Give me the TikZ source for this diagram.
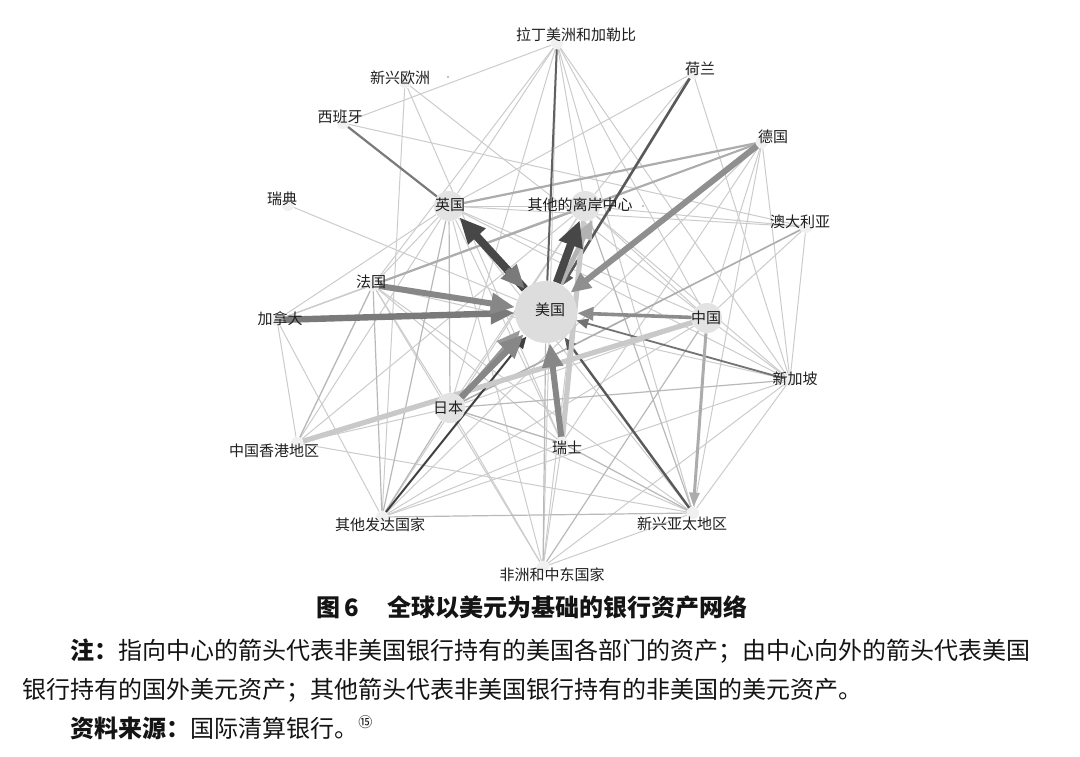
\documentclass[tikz,border=0pt]{standalone}
\usepackage{fontspec}
\setmainfont{Noto Sans CJK SC}
\usetikzlibrary{arrows.meta,calc}
\pgfdeclarelayer{bg}
\pgfdeclarelayer{edges}
\pgfsetlayers{bg,edges,main}
\begin{document}
\begin{tikzpicture}[x=0.5pt,y=-0.5pt,
  lbl/.style={font=\fontsize{7.5}{9}\selectfont, text=black!88, inner sep=0pt},
  hubS/.style={circle, fill=gray!12, inner sep=0pt, minimum size=6pt},
  hubL/.style={circle, fill=gray!22, inner sep=0pt, minimum size=15pt},
  usN/.style={circle, fill=gray!27, inner sep=0pt, minimum size=31pt},
  ea/.style={draw=gray!40, line width=0.5pt},
  eb/.style={draw=gray!55, line width=0.6pt},
  ec/.style={draw=gray!65, line width=0.8pt},
  edk/.style={draw=black!62, line width=1pt},
  big/.style={line width=3pt, -{Triangle[length=12pt,width=10pt]}},
  small/.style={-{Triangle[length=6pt,width=5pt]}},
  txt/.style={font=\fontsize{12}{14}\selectfont, text=black!92, inner sep=0pt, anchor=west}
]
\useasboundingbox (0,0) rectangle (1080,756);
\begin{pgfonlayer}{bg}
\fill[white] (0,0) rectangle (1080,756);
\end{pgfonlayer}

% hubs
\node[usN] (us) at (546,312) {};
\node[hubL] (uk) at (449,206) {};
\node[hubL] (off) at (585,206) {};
\node[hubL] (jp) at (450,408) {};
\node[hubL] (cn) at (707,318) {};
\node[hubS] (fr) at (373,285) {};
\node[hubS] (ca) at (277,320) {};
\node[hubS] (se) at (288,205) {};
\node[hubS] (es) at (343,123) {};
\node[hubS] (ee) at (405,82) {};
\node[hubS] (la) at (557,43) {};
\node[hubS] (nl) at (693,73) {};
\node[hubS] (de) at (762,142) {};
\node[hubS] (au) at (806,227) {};
\node[hubS] (sg) at (790,380) {};
\node[hubS] (eap) at (693,513) {};
\node[hubS] (ame) at (543,567) {};
\node[hubS] (ch) at (562,443) {};
\node[hubS] (hk) at (297,443) {};
\node[hubS] (od) at (382,517) {};

% labels
\node[lbl] (t-us) at (550,310) {美国};
\node[lbl] (t-uk) at (450,205) {英国};
\node[lbl] (t-off) at (580,205) {其他的离岸中心};
\node[lbl] (t-jp) at (448,408) {日本};
\node[lbl] (t-cn) at (706,318) {中国};
\node[lbl] (t-fr) at (371,282) {法国};
\node[lbl] (t-ca) at (280,319) {加拿大};
\node[lbl] (t-se) at (282,199) {瑞典};
\node[lbl] (t-es) at (340,117) {西班牙};
\node[lbl] (t-ee) at (400,78) {新兴欧洲};
\node[lbl] (t-la) at (576,35) {拉丁美洲和加勒比};
\node[lbl] (t-nl) at (700,69) {荷兰};
\node[lbl] (t-de) at (773,137) {德国};
\node[lbl] (t-au) at (800,222) {澳大利亚};
\node[lbl] (t-sg) at (795,379) {新加坡};
\node[lbl] (t-eap) at (682,524) {新兴亚太地区};
\node[lbl] (t-ame) at (552,575) {非洲和中东国家};
\node[lbl] (t-ch) at (567,448) {瑞士};
\node[lbl] (t-hk) at (274,451) {中国香港地区};
\node[lbl] (t-od) at (380,525) {其他发达国家};
\fill[gray!60] (448,77) circle (0.6pt);
\fill[gray!60] (643,206) circle (0.6pt);

\begin{pgfonlayer}{edges}
\foreach \a/\b in {uk/off,uk/au,uk/nl,uk/la,uk/fr,uk/ca,uk/hk,uk/cn,uk/sg,uk/eap,uk/ch,uk/ame,
  off/nl,off/la,off/au,off/jp,off/ca,off/sg,off/od,off/hk,off/ame,
  fr/ca,fr/jp,fr/ch,fr/eap,fr/ame,fr/hk,fr/sg,
  ca/od,ca/off,ca/hk,
  jp/hk,jp/ch,jp/eap,jp/ame,jp/cn,jp/la,
  hk/eap,od/cn,od/sg,od/ch,od/de,
  ame/eap,ame/sg,ame/ch,ame/la,
  eap/sg,eap/de,sg/cn,sg/de,sg/au,sg/nl,
  cn/off,cn/de,cn/au,cn/la,de/off,de/ch,
  au/es,la/es,la/fr,la/eap,la/sg,ee/od,ee/cn,ee/ch,se/us}
  \draw[ea] (\a) -- (\b);
\foreach \a/\b in {uk/jp,fr/od,od/uk,od/jp,od/eap,ch/jp,off/eap,fr/off,jp/sg,ame/cn,ame/us,ch/eap,hk/fr}
  \draw[eb] (\a) -- (\b);
\draw[ec, line width=1.1pt] (de) -- (uk);
\draw[ec, line width=1pt] (de) -- (fr);
\draw[ec] (au) -- (jp);
\draw[edk, line width=1.1pt, draw=black!52] (es) -- (uk);
\draw[edk] (la) -- (us);
\draw[edk, line width=1.3pt, black!65, small] (nl) -- (us);
\draw[edk, draw=black!55, line width=0.9pt, small] (sg) -- (us);
\draw[edk, line width=1.2pt, black!65, small] (eap) -- (us);
\draw[edk, line width=1pt, black!75, small] (od) -- (us);
% thick light bands
\draw[gray!42, line width=2.6pt] (cn) -- (hk);
\draw[gray!42, line width=2.6pt] (ch) -- (off);
% thick arrows
\draw[big, black!52, line width=3.2pt] (ca) -- (us);
\draw[big, black!47] (fr) -- (us);
\draw[big, black!44, -{Triangle[length=10pt,width=9pt]}] (de) -- (us);
\draw[big, black!40, line width=2.6pt] (jp.40) -- (us.215);
\draw[big, black!47] (jp) -- (us);
\draw[big, black!47] (ch) -- (us);
\draw[line width=1.8pt, black!45, -{Triangle[length=8pt,width=6.5pt]}] (cn) -- (us);
\draw[line width=1.5pt, gray!65, -{Triangle[length=7pt,width=5pt]}] (cn) -- (eap);
\draw[big, black!72, line width=4pt, -{Triangle[length=13pt,width=11pt]}] (us) -- (uk);
\draw[big, black!52, line width=3pt] ($(uk)!0.6!(us)$) -- (us);
\draw[big, gray!60, line width=2.4pt, -{Triangle[length=10pt,width=8pt]}] (us.62) -- (off.-60);
\draw[big, black!72, line width=4pt, -{Triangle[length=13pt,width=12pt]}] (us) -- (off);
\end{pgfonlayer}

% caption and notes
\node[font=\fontsize{12}{14}\selectfont\bfseries, text=black!92, inner sep=0pt] (cap) at (532,607) {图\,6\hspace{14pt}全球以美元为基础的银行资产网络};
\node[txt] (n1) at (70,651) {{\bfseries 注：}指向中心的箭头代表非美国银行持有的美国各部门的资产；由中心向外的箭头代表美国};
\node[txt] (n2) at (22,690) {银行持有的国外美元资产；其他箭头代表非美国银行持有的非美国的美元资产。};
\node[txt] (n3) at (70,728) {{\bfseries 资料来源：}国际清算银行。\raisebox{5pt}{\fontsize{7}{8}\selectfont ⑮}};
\end{tikzpicture}
\end{document}
